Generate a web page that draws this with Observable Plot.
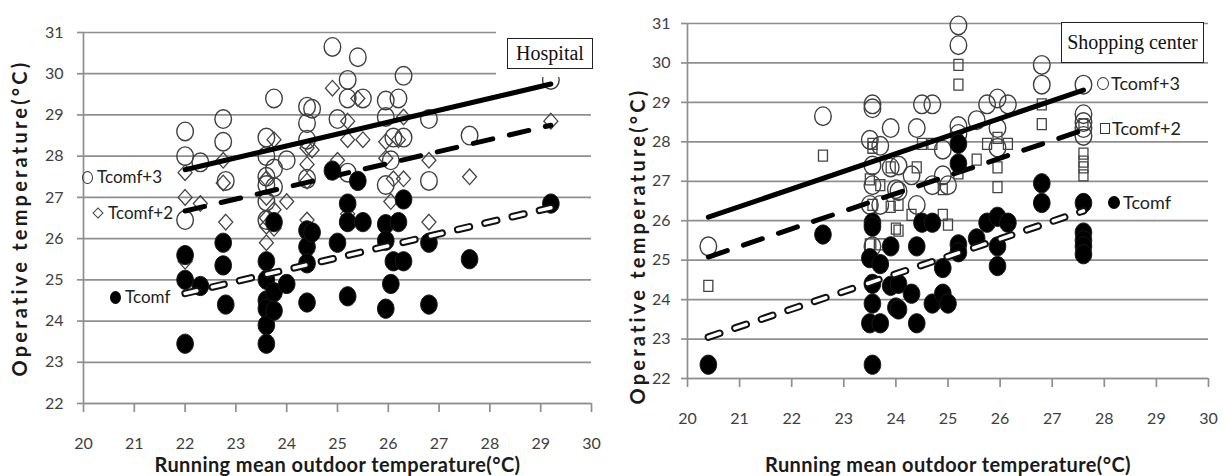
<!DOCTYPE html>
<html>
<head>
<meta charset="utf-8">
<script src="https://cdn.jsdelivr.net/npm/d3@7"></script>
<script src="https://cdn.jsdelivr.net/npm/@observablehq/plot@0.6"></script>
<style>
  html, body { margin: 0; padding: 0; background: #fff; }
  #wrap { position: relative; width: 1226px; height: 476px; overflow: hidden; font-family: Lato, sans-serif; }
  .panel { position: absolute; top: 0; }
  .ov { position: absolute; pointer-events: none; }
  .box { position: absolute; background: #fff; border: 1.5px solid #222; box-sizing: border-box;
         font-family: "Liberation Serif", "Times New Roman", serif; font-size: 20px; color: #111;
         display: flex; align-items: center; justify-content: center; }
  .cover { position: absolute; background: #fff; }
  .lg { position: absolute; height: 20px; line-height: 20px; font-family: Lato, sans-serif; color: #222; white-space: nowrap; }
  .sym { position: absolute; box-sizing: border-box; }
</style>
</head>
<body>
<div id="wrap">
  <div id="left" class="panel" style="left:0px"></div>
  <div id="right" class="panel" style="left:610px"></div>
</div>
<script>
// ---------- data ----------
const xTicks = [20, 21, 22, 23, 24, 25, 26, 27, 28, 29, 30];
const yTicks = [22, 23, 24, 25, 26, 27, 28, 29, 30, 31];

const xTitle = "Running mean outdoor temperature(°C)";
const yTitle = "Operative temperature(°C)";
const seriesNames = ["Tcomf+3", "Tcomf+2", "Tcomf"];
const panelNames = ["Hospital", "Shopping center"];

// Hospital
const hospX = [22, 22, 22, 22.3, 22.75, 22.75, 22.8, 23.6, 23.6, 23.6, 23.6, 23.6, 23.6, 23.75, 23.75, 23.75, 24.0, 24.4, 24.4, 24.4, 24.4, 24.5, 24.9, 25.0, 25.2, 25.2, 25.2, 25.4, 25.5, 25.95, 25.95, 25.95, 26.05, 26.1, 26.2, 26.3, 26.3, 26.8, 26.8, 27.6, 29.2];
const hospTcomf = [25.6, 25.0, 23.45, 24.85, 25.9, 25.35, 24.4, 25.45, 25.0, 24.5, 24.3, 23.9, 23.45, 26.4, 24.7, 24.25, 24.9, 26.2, 25.8, 25.4, 24.45, 26.15, 27.65, 25.9, 26.85, 26.4, 24.6, 27.4, 26.4, 26.35, 25.95, 24.3, 24.9, 25.45, 26.4, 26.95, 25.45, 25.9, 24.4, 25.5, 26.85];
const hospTcomf2 = [27.6, 27.0, 25.45, 26.85, 27.9, 27.35, 26.4, 27.45, 27.0, 26.5, 26.3, 25.9, 25.45, 28.4, 26.7, 26.25, 26.9, 28.2, 27.8, 27.4, 26.45, 28.15, 29.65, 27.9, 28.85, 28.4, 26.6, 29.4, 28.4, 28.35, 27.95, 26.3, 26.9, 27.45, 28.4, 28.95, 27.45, 27.9, 26.4, 27.5, 28.85];
const hospTcomf3 = [28.6, 28.0, 26.45, 27.85, 28.9, 28.35, 27.4, 28.45, 28.0, 27.5, 27.3, 26.9, 26.45, 29.4, 27.7, 27.25, 27.9, 29.2, 28.8, 28.4, 27.45, 29.15, 30.65, 28.9, 29.85, 29.4, 27.6, 30.4, 29.4, 29.35, 28.95, 27.3, 27.9, 28.45, 29.4, 29.95, 28.45, 28.9, 27.4, 28.5, 29.85];
const hospLineX = [22, 29.2];
const hospFit = [24.67, 26.75];
const hospFit2 = [26.67, 28.75];
const hospFit3 = [27.67, 29.75];

// Shopping center
const shopX = [20.4, 22.6, 23.5, 23.5, 23.55, 23.55, 23.55, 23.55, 23.55, 23.7, 23.7, 23.9, 23.9, 24.0, 24.05, 24.05, 24.3, 24.4, 24.4, 24.5, 24.7, 24.7, 24.9, 24.9, 25.0, 25.2, 25.2, 25.2, 25.2, 25.55, 25.75, 25.95, 25.95, 25.95, 26.15, 26.8, 26.8, 27.6, 27.6, 27.6, 27.6, 27.6];
const shopTcomf = [22.35, 25.65, 25.05, 23.4, 25.95, 25.85, 24.4, 23.9, 22.35, 24.9, 23.4, 25.35, 24.35, 23.8, 24.4, 23.75, 24.15, 25.35, 23.4, 25.95, 25.95, 23.9, 24.8, 24.15, 23.9, 27.95, 27.45, 25.4, 25.2, 25.55, 25.95, 26.1, 25.35, 24.85, 25.95, 26.95, 26.45, 26.45, 25.7, 25.5, 25.35, 25.15];
const shopTcomf2 = [24.35, 27.65, 27.05, 25.4, 27.95, 27.85, 26.4, 25.9, 24.35, 26.9, 25.4, 27.35, 26.35, 25.8, 26.4, 25.75, 26.15, 27.35, 25.4, 27.95, 27.95, 25.9, 26.8, 26.15, 25.9, 29.95, 29.45, 27.4, 27.2, 27.55, 27.95, 28.1, 27.35, 26.85, 27.95, 28.95, 28.45, 28.45, 27.7, 27.5, 27.35, 27.15];
const shopTcomf3 = [25.35, 28.65, 28.05, 26.4, 28.95, 28.85, 27.4, 26.9, 25.35, 27.9, 26.4, 28.35, 27.35, 26.8, 27.4, 26.75, 27.15, 28.35, 26.4, 28.95, 28.95, 26.9, 27.8, 27.15, 26.9, 30.95, 30.45, 28.4, 28.2, 28.55, 28.95, 29.1, 28.35, 27.85, 28.95, 29.95, 29.45, 29.45, 28.7, 28.5, 28.35, 28.15];
const shopLineX = [20.4, 27.6];
const shopFit = [23.05, 26.25];
const shopFit2 = [25.08, 28.3];
const shopFit3 = [26.09, 29.31];

// ---------- symbols ----------
function ellipseSym(rx, ry) {
  return {draw(ctx) {
    const k = 0.5523;
    ctx.moveTo(rx, 0);
    ctx.bezierCurveTo(rx, k * ry, k * rx, ry, 0, ry);
    ctx.bezierCurveTo(-k * rx, ry, -rx, k * ry, -rx, 0);
    ctx.bezierCurveTo(-rx, -k * ry, -k * rx, -ry, 0, -ry);
    ctx.bezierCurveTo(k * rx, -ry, rx, -k * ry, rx, 0);
    ctx.closePath();
  }};
}
function diamondSym(hw, hh) {
  return {draw(ctx) { ctx.moveTo(0, -hh); ctx.lineTo(hw, 0); ctx.lineTo(0, hh); ctx.lineTo(-hw, 0); ctx.closePath(); }};
}
function rectSym(hw, hh) {
  return {draw(ctx) { ctx.moveTo(-hw, -hh); ctx.lineTo(hw, -hh); ctx.lineTo(hw, hh); ctx.lineTo(-hw, hh); ctx.closePath(); }};
}

const GRID = "#8f8f8f";

function panel(cfg) {
  const {xs, t, t2, t3, lx, f, f2, f3, midSym, m, width, titleDx, titleDy, xTitleDy, yPad} = cfg;
  const svg = Plot.plot({
    width, height: 476,
    marginLeft: m[0], marginRight: m[1], marginTop: m[2], marginBottom: m[3],
    x: {domain: [20, 30]},
    y: {domain: [22, 31]},
    style: {fontFamily: "Lato, sans-serif", fontSize: "16px", color: "#404040", background: "transparent", overflow: "visible"},
    marks: [
      Plot.gridY(yTicks, {stroke: GRID, strokeOpacity: 1, strokeWidth: 1.7}),
      Plot.axisY(yTicks, {tickSize: 6, tickPadding: yPad, stroke: GRID, strokeWidth: 1.7, fill: "#404040", label: null, fontSize: 16}),
      Plot.axisX(xTicks, {tickSize: 9, tickPadding: 25, stroke: GRID, strokeWidth: 1.7, fill: "#404040", label: null, fontSize: 16}),
      Plot.ruleX([20], {stroke: GRID, strokeWidth: 1.7}),
      Plot.ruleY([22], {stroke: GRID, strokeWidth: 1.7}),
      // Tcomf+3 open circles
      Plot.dot(xs, {x: xs, y: t3, symbol: ellipseSym(8.3, 9.3), r: 9, stroke: "#3f3f3f", strokeWidth: 1.4, fill: "none"}),
      // Tcomf+2 diamonds / squares
      Plot.dot(xs, {x: xs, y: t2, symbol: midSym, r: 7, stroke: "#444", strokeWidth: 1.3, fill: "none"}),
      // trend lines Tcomf+3 and Tcomf+2
      Plot.line(lx, {x: lx, y: f3, stroke: "#000", strokeWidth: 5}),
      Plot.line(lx, {x: lx, y: f2, stroke: "#000", strokeWidth: 5, strokeDasharray: "20,17"}),
      // Tcomf filled
      Plot.dot(xs, {x: xs, y: t, symbol: ellipseSym(8.3, 9.6), r: 9, fill: "#000", stroke: "#1a1a1a", strokeWidth: 1}),
      // Tcomf trend (outlined dashes)
      Plot.line(lx, {x: lx, y: f, stroke: "#111", strokeWidth: 7.5, strokeDasharray: "12,16", strokeLinecap: "round"}),
      Plot.line(lx, {x: lx, y: f, stroke: "#fff", strokeWidth: 3.5, strokeDasharray: "12,16", strokeLinecap: "round"}),
      // axis titles
      Plot.text([xTitle], {text: d => d, frameAnchor: "bottom", lineAnchor: "middle", textAnchor: "middle", dy: xTitleDy, fontSize: 20, fontWeight: "bold", fill: "#1a1a1a"}),
      Plot.text([yTitle], {text: d => d, frameAnchor: "left", textAnchor: "middle", lineAnchor: "middle", rotate: -90, dx: titleDx, dy: titleDy, fontSize: 20, fontWeight: "bold", fill: "#1a1a1a"})
    ]
  });
  svg.querySelectorAll("text").forEach(el => {
    if (el.textContent === yTitle) el.style.letterSpacing = "3.2px";
    if (el.textContent === xTitle) el.style.letterSpacing = "0.4px";
  });
  return svg;
}

document.getElementById("left").appendChild(panel({
  xs: hospX, t: hospTcomf, t2: hospTcomf2, t3: hospTcomf3,
  lx: hospLineX, f: hospFit, f2: hospFit2, f3: hospFit3,
  midSym: diamondSym(7, 7.8), m: [83, 19, 32, 73], width: 610,
  titleDx: -63, titleDy: 0, xTitleDy: 62, yPad: 14
}));
document.getElementById("right").appendChild(panel({
  xs: shopX, t: shopTcomf, t2: shopTcomf2, t3: shopTcomf3,
  lx: shopLineX, f: shopFit, f2: shopFit2, f3: shopFit3,
  midSym: rectSym(4.5, 5.5), m: [77, 18, 23, 98], width: 616,
  titleDx: -49, titleDy: 45, xTitleDy: 87, yPad: 11
}));

// ---------- overlays: panel labels and series labels ----------
const wrap = document.getElementById("wrap");
function add(html) { const d = document.createElement("div"); d.className = "ov"; d.style.left = "0"; d.style.top = "0"; d.innerHTML = html; wrap.appendChild(d); }

add(`<div class="cover" style="left:496px;top:27px;width:97px;height:50px"></div>
<div class="box" style="left:507px;top:38px;width:86px;height:31px">${panelNames[0]}</div>
<div class="box" style="left:1061px;top:22px;width:143px;height:41px">${panelNames[1]}</div>`);

function legendItem(symStyle, cx, cy, w, h, textLeft, label, fs) {
  return `<div class="sym" style="left:${cx - w / 2}px;top:${cy - h / 2}px;width:${w}px;height:${h}px;${symStyle}"></div>
  <div class="lg" style="left:${textLeft}px;top:${cy - 10}px;font-size:${fs}px">${label}</div>`;
}
const openC = "border:1.3px solid #333;border-radius:50%;";
const fillC = "background:#000;border-radius:50%;";
const diam = "border:1.3px solid #444;transform:rotate(45deg);";
const sq = "border:1.4px solid #333;";

add(
  legendItem(openC, 87, 177, 11, 13, 97, seriesNames[0], 17) +
  legendItem(diam, 98, 213, 8, 8, 108, seriesNames[1], 17) +
  legendItem(fillC, 115, 297, 11, 13, 125, seriesNames[2], 17) +
  legendItem(openC, 1103, 83, 12, 13, 1111, seriesNames[0], 18) +
  legendItem(sq, 1105, 128, 10, 11, 1112, seriesNames[1], 18) +
  legendItem(fillC, 1114, 202, 12, 13, 1123, seriesNames[2], 18)
);
</script>
</body>
</html>
